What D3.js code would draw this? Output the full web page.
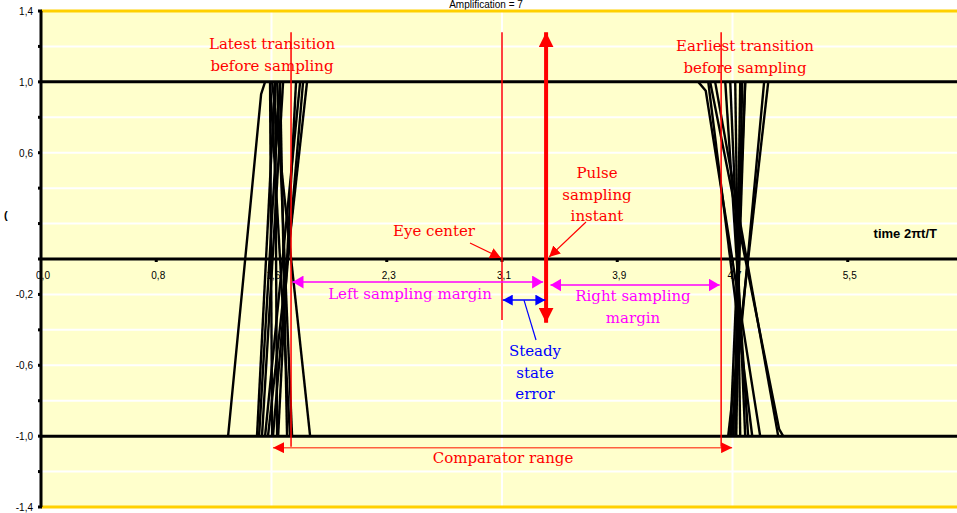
<!DOCTYPE html>
<html>
<head>
<meta charset="utf-8">
<script src="https://cdn.jsdelivr.net/npm/d3@7"></script>
<style>
  body { margin: 0; background: #fff; }
  svg { display: block; }
  .ann { font-family: "DejaVu Serif", serif; font-size: 15px; }
  .tick-lbl { font-family: "Liberation Sans Narrow", "Liberation Sans", sans-serif; font-size: 10px; fill: #000; }
</style>
</head>
<body>
<div id="chart"></div>
<script>
// axis ticks
const xTickValues = [0, Math.PI / 4, Math.PI / 2, 3 * Math.PI / 4, Math.PI, 5 * Math.PI / 4, 3 * Math.PI / 2, 7 * Math.PI / 4];
const xTickLabels = ['0,0', '0,8', '1,6', '2,3', '3,1', '3,9', '4,7', '5,5'];
const yTickValues = [1.4, 1.0, 0.6, -0.2, -0.6, -1.0, -1.4];
const yTickLabels = ['1,4', '1,0', '0,6', '-0,2', '-0,6', '-1,0', '-1,4'];
const yGrid = [1.2, 0.8, 0.6, 0.4, 0.2, -0.2, -0.4, -0.6, -0.8, -1.2];
const xGrid = [Math.PI / 2, Math.PI, 3 * Math.PI / 2];
const levels = [1.0, 0, -1.0];

// transitions near first crossing (time, level)
const leftTraces = [
  [[1.275, -1], [1.50, 0.93], [1.527, 1]],
  [[1.472, -1], [1.595, 1]],
  [[1.486, -1], [1.629, 1]],
  [[1.506, -1], [1.650, 1]],
  [[1.527, -1], [1.766, 1]],
  [[1.547, -1], [1.813, 1]],
  [[1.581, -1], [1.786, 1]],
  [[1.616, -1], [1.738, 1]],
  [[1.561, 1], [1.697, -1]],
  [[1.575, 1], [1.834, -1]],
  [[1.609, 1], [1.711, -1]],
  [[1.629, 1], [1.677, -1]],
  [[1.561, 1], [1.575, -1]],
  [[1.595, 1], [1.609, -1]]
];
// transitions near second crossing
const rightTraces = [
  [[4.479, 1], [4.53, 0.95], [4.901, -1]],
  [[4.560, 1], [5.03, -0.96], [5.058, -1]],
  [[4.594, 1], [5.024, -1]],
  [[4.547, 1], [4.847, -1]],
  [[4.663, 1], [4.819, -1]],
  [[4.697, 1], [4.799, -1]],
  [[4.731, 1], [4.765, -1]],
  [[4.765, 1], [4.731, -1]],
  [[4.799, 1], [4.697, -1]],
  [[4.683, -1], [4.956, 1]],
  [[4.704, -1], [4.928, 1]],
  [[4.717, -1], [4.799, 1]],
  [[4.738, -1], [4.778, 1]]
];

// annotation anchors (time, level)
const lateX = 1.704, earlyX = 4.635, eyeX = Math.PI, sampleX = 3.442;

const W = 957, H = 513;
const svg = d3.select('#chart').append('svg').attr('width', W).attr('height', H);
const x = d3.scaleLinear().domain([0, 2 * Math.PI]).range([41, 963]);
const y = d3.scaleLinear().domain([-1.4, 1.4]).range([507, 11]);

const defs = svg.append('defs');
function marker(id, color, w, h) {
  defs.append('marker').attr('id', id).attr('viewBox', `0 0 ${w} ${h}`)
    .attr('refX', w).attr('refY', h / 2).attr('markerWidth', w).attr('markerHeight', h)
    .attr('markerUnits', 'userSpaceOnUse').attr('orient', 'auto-start-reverse')
    .append('path').attr('d', `M0,0L${w},${h / 2}L0,${h}Z`).attr('fill', color);
}
marker('mag', '#ff00ff', 11, 13);
marker('blue', '#0000ff', 10, 11);
marker('red', '#ff0000', 11, 11);
marker('redBig', '#ff0000', 15, 15);

// plot background
svg.append('rect').attr('x', x(0)).attr('y', y(1.4)).attr('width', W - x(0)).attr('height', y(-1.4) - y(1.4)).attr('fill', '#ffffcc');

svg.append('g').selectAll('line').data(yGrid).join('line')
  .attr('x1', x(0)).attr('x2', W).attr('y1', d => y(d)).attr('y2', d => y(d))
  .attr('stroke', '#fff').attr('stroke-width', 2);
svg.append('g').selectAll('line').data(xGrid).join('line')
  .attr('x1', d => x(d)).attr('x2', d => x(d)).attr('y1', y(1.4)).attr('y2', y(-1.4))
  .attr('stroke', '#fff').attr('stroke-width', 2);

// title
svg.append('text').attr('x', 486).attr('y', 8).attr('text-anchor', 'middle')
  .attr('font-family', 'Liberation Sans Narrow, Liberation Sans, sans-serif').attr('font-size', 10).text('Amplification = 7');

// x tick labels (under traces)
svg.append('g').selectAll('text').data(xTickValues).join('text').attr('class', 'tick-lbl')
  .attr('x', d => x(d) + 2).attr('y', y(0) + 20).attr('text-anchor', 'middle')
  .text((d, i) => xTickLabels[i]);

// level lines
svg.append('g').selectAll('line').data(levels).join('line')
  .attr('x1', x(0)).attr('x2', W).attr('y1', d => y(d)).attr('y2', d => y(d))
  .attr('stroke', '#000').attr('stroke-width', 3);
svg.append('g').selectAll('rect').data(xTickValues.slice(1)).join('rect')
  .attr('x', d => x(d) - 1.5).attr('y', y(0) - 1).attr('width', 3).attr('height', 4).attr('fill', '#000');

// gold frame
[1.4, -1.4].forEach(v => svg.append('line').attr('x1', x(0)).attr('x2', W).attr('y1', y(v)).attr('y2', y(v))
  .attr('stroke', '#ffd000').attr('stroke-width', 3));

// y axis
svg.append('line').attr('x1', x(0)).attr('x2', x(0)).attr('y1', y(1.4)).attr('y2', y(-1.4))
  .attr('stroke', '#000').attr('stroke-width', 3);
svg.append('g').selectAll('rect').data(d3.range(-1.4, 1.41, 0.2)).join('rect')
  .attr('x', x(0) - 3).attr('y', d => y(d) - 1.5).attr('width', 4).attr('height', 3).attr('fill', '#000');
svg.append('g').selectAll('text').data(yTickValues).join('text').attr('class', 'tick-lbl')
  .attr('x', 33).attr('y', d => y(d) + 4).attr('text-anchor', 'end')
  .text((d, i) => yTickLabels[i]);
svg.append('text').attr('x', 4).attr('y', 219).attr('font-size', 11).attr('font-weight', 'bold')
  .attr('font-family', 'Liberation Sans, sans-serif').text('(');

// traces
svg.append('g').selectAll('path').data(leftTraces.concat(rightTraces)).join('path')
  .attr('d', d => d3.line().x(p => x(p[0])).y(p => y(p[1]))(d))
  .attr('fill', 'none').attr('stroke', '#000').attr('stroke-width', 2.4);

// axis title
svg.append('text').attr('x', 937).attr('y', 238).attr('text-anchor', 'end')
  .attr('font-family', 'Liberation Sans, sans-serif').attr('font-size', 13).attr('font-weight', 'bold')
  .text('time  2πt/T');

// red vertical lines
const ann = svg.append('g');
[[lateX, 1.28, -1.06], [earlyX, 1.28, -1.06], [eyeX, 1.28, -0.345]].forEach(([t, a, b]) =>
  ann.append('line').attr('x1', x(t)).attr('x2', x(t)).attr('y1', y(a)).attr('y2', y(b))
    .attr('stroke', '#ff0000').attr('stroke-width', 1.5));

// sampling instant big arrow
ann.append('line').attr('x1', x(sampleX)).attr('x2', x(sampleX)).attr('y1', y(-0.36)).attr('y2', y(1.28))
  .attr('stroke', '#ff0000').attr('stroke-width', 4)
  .attr('marker-start', 'url(#redBig)').attr('marker-end', 'url(#redBig)');

// double arrows
function dbl(x1, x2, yv, mk, color, sw) {
  ann.append('line').attr('x1', x(x1)).attr('x2', x(x2)).attr('y1', y(yv)).attr('y2', y(yv))
    .attr('stroke', color).attr('stroke-width', sw)
    .attr('marker-start', `url(#${mk})`).attr('marker-end', `url(#${mk})`);
}
dbl(lateX + 0.01, sampleX - 0.02, -0.13, 'mag', '#ff00ff', 1.5);
dbl(sampleX + 0.03, earlyX - 0.01, -0.147, 'mag', '#ff00ff', 1.5);
dbl(eyeX + 0.005, sampleX - 0.005, -0.232, 'blue', '#0000ff', 1.5);
dbl(1.581, 4.71, -1.065, 'red', '#ff6040', 1.5);

// pointer arrows
ann.append('line').attr('x1', 470).attr('y1', 243).attr('x2', x(eyeX) - 1).attr('y2', y(0) - 1)
  .attr('stroke', '#ff0000').attr('stroke-width', 1.2).attr('marker-end', 'url(#red)');
ann.append('line').attr('x1', 586).attr('y1', 222).attr('x2', x(sampleX) + 3).attr('y2', y(0) - 2)
  .attr('stroke', '#ff0000').attr('stroke-width', 1.2).attr('marker-end', 'url(#red)');
ann.append('line').attr('x1', 524).attr('y1', y(-0.232)).attr('x2', 536).attr('y2', 340)
  .attr('stroke', '#0000ff').attr('stroke-width', 1.2);

// texts
function txt(lines, cx, y0, color) {
  lines.forEach((s, i) => ann.append('text').attr('class', 'ann').attr('x', cx).attr('y', y0 + i * 21.5)
    .attr('text-anchor', 'middle').attr('fill', color).text(s));
}
txt(['Latest transition', 'before sampling'], 272, 49, '#ff0000');
txt(['Earliest transition', 'before sampling'], 745, 51, '#ff0000');
txt(['Eye center'], 434, 236, '#ff0000');
txt(['Pulse', 'sampling', 'instant'], 597, 178, '#ff0000');
txt(['Left sampling margin'], 410, 299, '#ff00ff');
txt(['Right sampling', 'margin'], 633, 301, '#ff00ff');
txt(['Steady', 'state', 'error'], 535, 356, '#0000ff');
txt(['Comparator range'], 503, 463, '#ff0000');
</script>
</body>
</html>
